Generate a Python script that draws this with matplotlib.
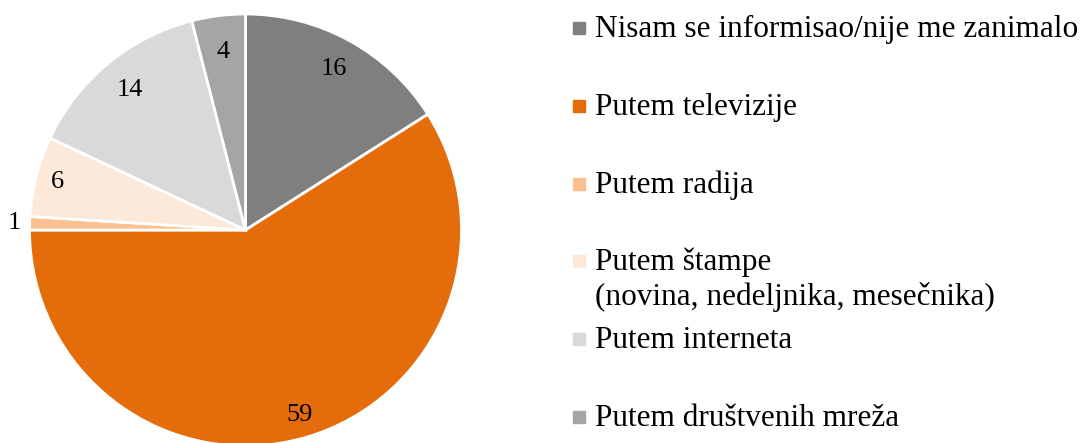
import matplotlib.pyplot as plt
from matplotlib.patches import Rectangle
import numpy as np

# Podaci
labels = ["Nisam se informisao/nije me zanimalo",
          "Putem televizije",
          "Putem radija",
          "Putem štampe\n(novina, nedeljnika, mesečnika)",
          "Putem interneta",
          "Putem društvenih mreža"]
values = [16, 59, 1, 6, 14, 4]
colors = ["#7F7F7F", "#E46C0A", "#FAC090", "#FDE9D9", "#D9D9D9", "#A5A5A5"]
label_dist = [0.85, 0.89, 1.07, 0.9, 0.84, 0.83]

W, H = 1087, 443
plt.rcParams['font.family'] = ['Liberation Serif', 'DejaVu Serif']

fig = plt.figure(figsize=(W / 100, H / 100), dpi=100)
cx, cy, r = 245.5, 230, 216
ax = fig.add_axes([(cx - r) / W, (H - cy - r) / H, 2 * r / W, 2 * r / H])

wedges, _ = ax.pie(values, colors=colors, startangle=90, counterclock=False,
                   wedgeprops=dict(edgecolor='white', linewidth=2))
ax.set_xlim(-1, 1)
ax.set_ylim(-1, 1)
ax.set_aspect('equal')
ax.axis('off')

# oznake vrednosti
for w, v, d in zip(wedges, values, label_dist):
    ang = np.deg2rad((w.theta1 + w.theta2) / 2)
    ax.text(d * np.cos(ang), d * np.sin(ang), str(v), ha='center', va='center',
            fontsize=19, color='black')

# legenda
pitch = 77.8
line_h = 35
for i, (lab, col) in enumerate(zip(labels, colors)):
    y = 28 + i * pitch
    fig.patches.append(Rectangle((573 / W, 1 - (y + 6) / H), 12 / W, 12 / H,
                                 transform=fig.transFigure, color=col))
    for j, line in enumerate(lab.split("\n")):
        fig.text(595 / W, 1 - (y + 9 + j * line_h) / H, line, ha='left',
                 va='baseline', fontsize=22.5)

fig.savefig("out.png", dpi=100)
